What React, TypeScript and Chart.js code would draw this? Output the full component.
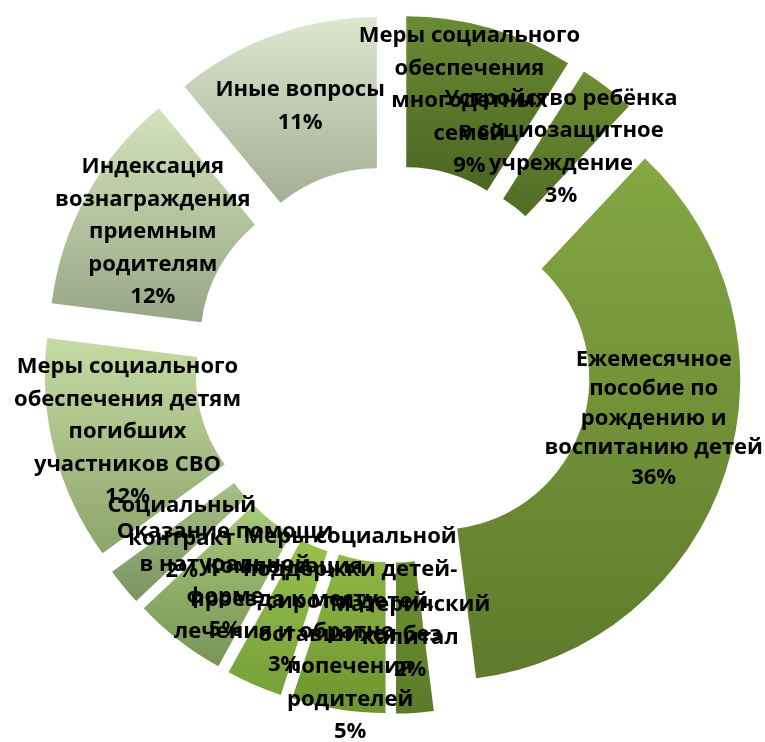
import React, { useEffect, useRef } from "react";
import { Chart, registerables } from "chart.js";

Chart.register(...registerables);

const categories: string[] = [
  "Меры социального обеспечения многодетных семей",
  "Устройство ребёнка в социозащитное учреждение",
  "Ежемесячное пособие по рождению и воспитанию детей",
  "Материнский капитал",
  "Меры социальной поддержки детей-сирот и детей, оставшихся без попечения родителей",
  "Компенсация проезда к месту лечения и обратно",
  "Оказание помощи в натуральной форме",
  "Социальный контракт",
  "Меры социального обеспечения детям погибших участников СВО",
  "Индексация вознаграждения приемным родителям",
  "Иные вопросы",
];

const categoryLines: string[][] = [
  ["Меры социального", "обеспечения", "многодетных", "семей"],
  ["Устройство ребёнка", "в социозащитное", "учреждение"],
  ["Ежемесячное", "пособие по", "рождению и", "воспитанию детей"],
  ["Материнский", "капитал"],
  ["Меры социальной", "поддержки детей-", "сирот и детей,", "оставшихся без", "попечения", "родителей"],
  ["Компенсация", "проезда к месту", "лечения и обратно"],
  ["Оказание помощи", "в натуральной", "форме"],
  ["Социальный", "контракт"],
  ["Меры социального", "обеспечения детям", "погибших", "участников СВО"],
  ["Индексация", "вознаграждения", "приемным", "родителям"],
  ["Иные вопросы"],
];

const values: number[] = [9, 3, 36, 2, 5, 3, 5, 2, 12, 12, 11];

const topColors: string[] = [
  "#6b8b33", "#6e8f32", "#84a743", "#6e9131", "#90b746", "#97c04c",
  "#a9c97a", "#a7c086", "#c6daa3", "#d3e2b8", "#dde6d0",
];
const bottomColors: string[] = [
  "#4c6523", "#516c25", "#5e7a2b", "#5b7a29", "#6e942f", "#76a03a",
  "#779455", "#7b935f", "#8ea46d", "#98a688", "#a3ae93",
];

// label placement tweaks (style only, in px)
const labelShiftY: number[] = [0, 0, -30, 0, 0, 0, 0, 0, 0, 0, 0];
const labelLineH: number[] = [32.5, 32.5, 29.5, 32.5, 32.5, 32.5, 32.5, 32.5, 32.5, 32.5, 32.5];

const EXPLODE = 47.6;
const RADIUS = 302;
const FONT = "bold 22px 'Open Sans', sans-serif";

function makeGradient(c: any): any {
  const chart = c.chart;
  const i = c.dataIndex;
  const area = chart.chartArea;
  if (!area || i === undefined) return topColors[i || 0];
  const total = values.reduce((a, b) => a + b, 0);
  let cum = 0;
  for (let k = 0; k < i; k++) cum += values[k];
  const a0 = -Math.PI / 2 + (2 * Math.PI * cum) / total;
  const a1 = a0 + (2 * Math.PI * values[i]) / total;
  const mid = (a0 + a1) / 2;
  const cy = (area.top + area.bottom) / 2 + EXPLODE * Math.sin(mid);
  const rIn = RADIUS * 0.5;
  let yMin = Infinity;
  let yMax = -Infinity;
  for (let s = 0; s <= 60; s++) {
    const a = a0 + ((a1 - a0) * s) / 60;
    for (const r of [rIn, RADIUS]) {
      const y = cy + r * Math.sin(a);
      if (y < yMin) yMin = y;
      if (y > yMax) yMax = y;
    }
  }
  const g = chart.ctx.createLinearGradient(0, yMin, 0, yMax);
  g.addColorStop(0, topColors[i]);
  g.addColorStop(1, bottomColors[i]);
  return g;
}

const explodePlugin = {
  id: "explodeArcs",
  afterDatasetUpdate(chart: any, args: any) {
    const meta = args.meta || chart.getDatasetMeta(args.index);
    meta.data.forEach((arc: any) => {
      const mid = (arc.startAngle + arc.endAngle) / 2;
      arc.x += EXPLODE * Math.cos(mid);
      arc.y += EXPLODE * Math.sin(mid);
    });
  },
};

const labelPlugin = {
  id: "arcLabels",
  afterDatasetsDraw(chart: any) {
    const ctx = chart.ctx;
    const meta = chart.getDatasetMeta(0);
    const total = values.reduce((a, b) => a + b, 0);
    ctx.save();
    ctx.font = FONT;
    ctx.fillStyle = "#000000";
    ctx.textAlign = "center";
    ctx.textBaseline = "middle";
    meta.data.forEach((arc: any, i: number) => {
      const p = arc.getCenterPoint();
      const lines = [...categoryLines[i], Math.round((values[i] / total) * 100) + "%"];
      const n = lines.length;
      const lh = labelLineH[i];
      lines.forEach((t, k) => {
        ctx.fillText(t, p.x, p.y + labelShiftY[i] + (k - (n - 1) / 2) * lh);
      });
    });
    ctx.restore();
  },
};

export default function App() {
  const ref = useRef<HTMLCanvasElement | null>(null);
  useEffect(() => {
    if (!ref.current) return;
    const chart = new Chart(ref.current, {
      type: "doughnut",
      data: {
        labels: categories,
        datasets: [
          {
            data: values,
            backgroundColor: makeGradient as any,
            borderWidth: 0,
          },
        ],
      },
      options: {
        animation: false,
        responsive: true,
        maintainAspectRatio: false,
        radius: RADIUS,
        cutout: "50%",
        events: [],
        layout: { padding: { left: 21, right: 0, top: 0, bottom: 14 } },
        plugins: {
          legend: { display: false },
          tooltip: { enabled: false },
        },
      } as any,
      plugins: [explodePlugin, labelPlugin],
    });
    return () => chart.destroy();
  }, []);
  return (
    <div style={{ position: "absolute", left: 0, top: 0, width: 765, height: 742, background: "#ffffff" }}>
      <canvas ref={ref} />
    </div>
  );
}
